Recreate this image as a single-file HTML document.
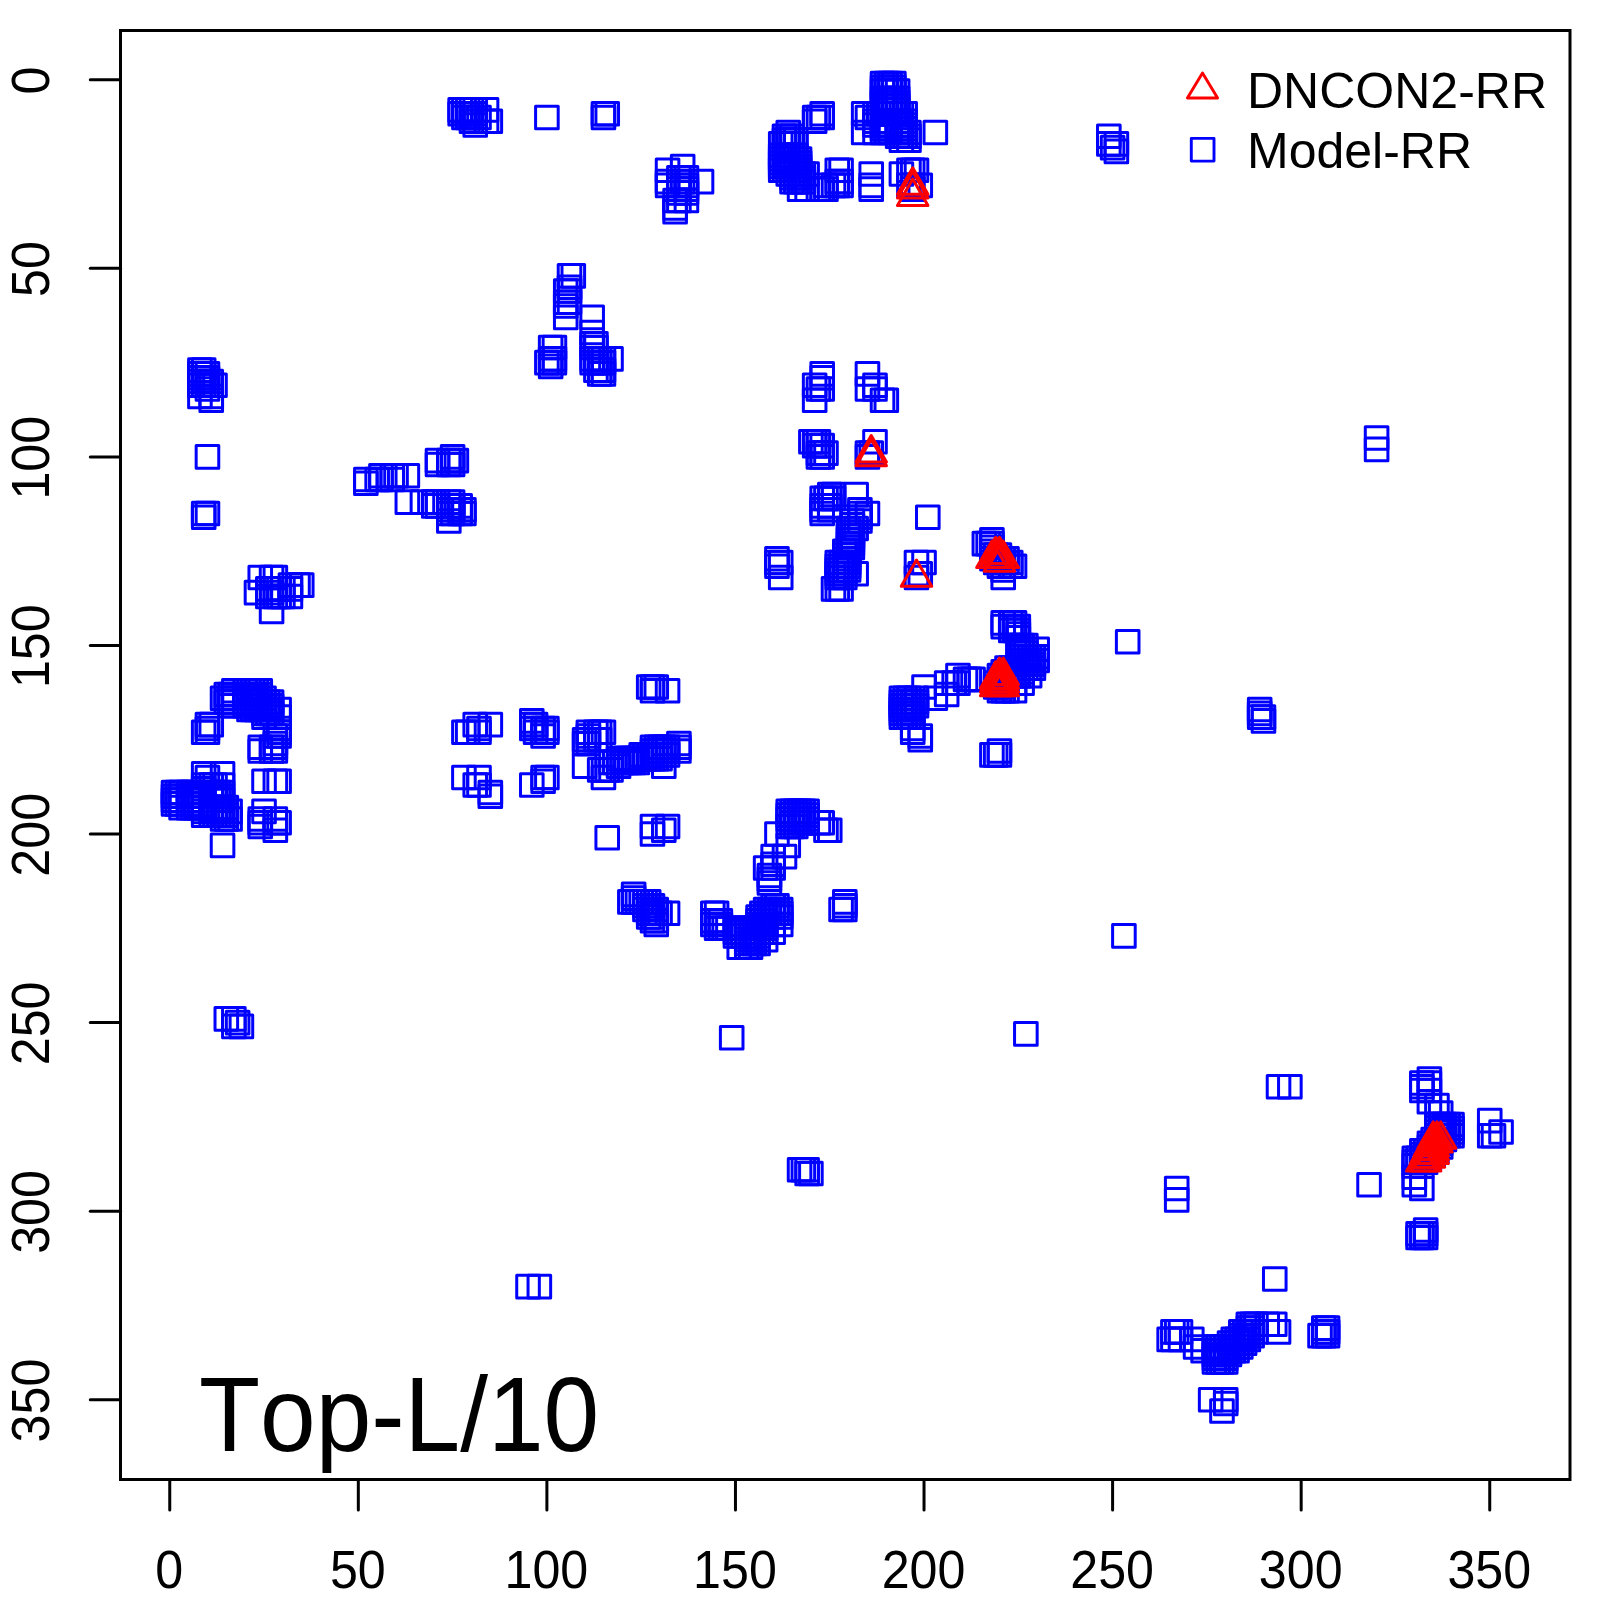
<!DOCTYPE html>
<html><head><meta charset="utf-8"><title>Top-L/10</title>
<style>
html,body{margin:0;padding:0;background:#fff}
svg{display:block}
text{font-kerning:none;font-family:"Liberation Sans",Arial,Helvetica,sans-serif;fill:#000}
</style></head><body>
<svg width="1600" height="1600" viewBox="0 0 1600 1600">
<rect x="0" y="0" width="1600" height="1600" fill="#ffffff"/>
<g fill="none" stroke="#0000ff" stroke-width="3.00" stroke-linejoin="round">
<rect x="162.22" y="781.24" width="22.60" height="22.60"/>
<rect x="162.22" y="785.02" width="22.60" height="22.60"/>
<rect x="162.22" y="788.79" width="22.60" height="22.60"/>
<rect x="162.22" y="792.56" width="22.60" height="22.60"/>
<rect x="165.99" y="781.24" width="22.60" height="22.60"/>
<rect x="165.99" y="785.02" width="22.60" height="22.60"/>
<rect x="165.99" y="788.79" width="22.60" height="22.60"/>
<rect x="165.99" y="792.56" width="22.60" height="22.60"/>
<rect x="169.76" y="781.24" width="22.60" height="22.60"/>
<rect x="169.76" y="785.02" width="22.60" height="22.60"/>
<rect x="169.76" y="788.79" width="22.60" height="22.60"/>
<rect x="169.76" y="792.56" width="22.60" height="22.60"/>
<rect x="169.76" y="796.33" width="22.60" height="22.60"/>
<rect x="177.31" y="781.24" width="22.60" height="22.60"/>
<rect x="177.31" y="785.02" width="22.60" height="22.60"/>
<rect x="177.31" y="788.79" width="22.60" height="22.60"/>
<rect x="177.31" y="792.56" width="22.60" height="22.60"/>
<rect x="177.31" y="796.33" width="22.60" height="22.60"/>
<rect x="181.08" y="781.24" width="22.60" height="22.60"/>
<rect x="181.08" y="785.02" width="22.60" height="22.60"/>
<rect x="181.08" y="788.79" width="22.60" height="22.60"/>
<rect x="181.08" y="792.56" width="22.60" height="22.60"/>
<rect x="181.08" y="796.33" width="22.60" height="22.60"/>
<rect x="184.85" y="781.24" width="22.60" height="22.60"/>
<rect x="184.85" y="785.02" width="22.60" height="22.60"/>
<rect x="184.85" y="788.79" width="22.60" height="22.60"/>
<rect x="184.85" y="792.56" width="22.60" height="22.60"/>
<rect x="184.85" y="796.33" width="22.60" height="22.60"/>
<rect x="188.62" y="358.85" width="22.60" height="22.60"/>
<rect x="188.62" y="362.62" width="22.60" height="22.60"/>
<rect x="188.62" y="366.39" width="22.60" height="22.60"/>
<rect x="188.62" y="370.16" width="22.60" height="22.60"/>
<rect x="188.62" y="373.93" width="22.60" height="22.60"/>
<rect x="188.62" y="385.25" width="22.60" height="22.60"/>
<rect x="188.62" y="785.02" width="22.60" height="22.60"/>
<rect x="188.62" y="788.79" width="22.60" height="22.60"/>
<rect x="188.62" y="792.56" width="22.60" height="22.60"/>
<rect x="188.62" y="796.33" width="22.60" height="22.60"/>
<rect x="192.39" y="358.85" width="22.60" height="22.60"/>
<rect x="192.39" y="362.62" width="22.60" height="22.60"/>
<rect x="192.39" y="366.39" width="22.60" height="22.60"/>
<rect x="192.39" y="370.16" width="22.60" height="22.60"/>
<rect x="192.39" y="373.93" width="22.60" height="22.60"/>
<rect x="192.39" y="502.16" width="22.60" height="22.60"/>
<rect x="192.39" y="505.93" width="22.60" height="22.60"/>
<rect x="192.39" y="720.90" width="22.60" height="22.60"/>
<rect x="192.39" y="762.39" width="22.60" height="22.60"/>
<rect x="192.39" y="773.70" width="22.60" height="22.60"/>
<rect x="192.39" y="777.47" width="22.60" height="22.60"/>
<rect x="192.39" y="781.24" width="22.60" height="22.60"/>
<rect x="192.39" y="785.02" width="22.60" height="22.60"/>
<rect x="192.39" y="788.79" width="22.60" height="22.60"/>
<rect x="192.39" y="792.56" width="22.60" height="22.60"/>
<rect x="192.39" y="796.33" width="22.60" height="22.60"/>
<rect x="192.39" y="800.10" width="22.60" height="22.60"/>
<rect x="192.39" y="803.87" width="22.60" height="22.60"/>
<rect x="196.16" y="362.62" width="22.60" height="22.60"/>
<rect x="196.16" y="366.39" width="22.60" height="22.60"/>
<rect x="196.16" y="370.16" width="22.60" height="22.60"/>
<rect x="196.16" y="373.93" width="22.60" height="22.60"/>
<rect x="196.16" y="377.70" width="22.60" height="22.60"/>
<rect x="196.16" y="445.59" width="22.60" height="22.60"/>
<rect x="196.16" y="502.16" width="22.60" height="22.60"/>
<rect x="196.16" y="713.36" width="22.60" height="22.60"/>
<rect x="196.16" y="717.13" width="22.60" height="22.60"/>
<rect x="196.16" y="720.90" width="22.60" height="22.60"/>
<rect x="196.16" y="766.16" width="22.60" height="22.60"/>
<rect x="199.94" y="370.16" width="22.60" height="22.60"/>
<rect x="199.94" y="373.93" width="22.60" height="22.60"/>
<rect x="199.94" y="385.25" width="22.60" height="22.60"/>
<rect x="199.94" y="389.02" width="22.60" height="22.60"/>
<rect x="199.94" y="713.36" width="22.60" height="22.60"/>
<rect x="199.94" y="773.70" width="22.60" height="22.60"/>
<rect x="199.94" y="781.24" width="22.60" height="22.60"/>
<rect x="199.94" y="785.02" width="22.60" height="22.60"/>
<rect x="199.94" y="788.79" width="22.60" height="22.60"/>
<rect x="199.94" y="796.33" width="22.60" height="22.60"/>
<rect x="199.94" y="800.10" width="22.60" height="22.60"/>
<rect x="199.94" y="803.87" width="22.60" height="22.60"/>
<rect x="203.71" y="373.93" width="22.60" height="22.60"/>
<rect x="203.71" y="773.70" width="22.60" height="22.60"/>
<rect x="203.71" y="781.24" width="22.60" height="22.60"/>
<rect x="203.71" y="785.02" width="22.60" height="22.60"/>
<rect x="203.71" y="788.79" width="22.60" height="22.60"/>
<rect x="203.71" y="796.33" width="22.60" height="22.60"/>
<rect x="203.71" y="800.10" width="22.60" height="22.60"/>
<rect x="203.71" y="803.87" width="22.60" height="22.60"/>
<rect x="207.48" y="781.24" width="22.60" height="22.60"/>
<rect x="207.48" y="785.02" width="22.60" height="22.60"/>
<rect x="207.48" y="788.79" width="22.60" height="22.60"/>
<rect x="207.48" y="796.33" width="22.60" height="22.60"/>
<rect x="207.48" y="800.10" width="22.60" height="22.60"/>
<rect x="207.48" y="803.87" width="22.60" height="22.60"/>
<rect x="211.25" y="686.96" width="22.60" height="22.60"/>
<rect x="211.25" y="762.39" width="22.60" height="22.60"/>
<rect x="211.25" y="773.70" width="22.60" height="22.60"/>
<rect x="211.25" y="781.24" width="22.60" height="22.60"/>
<rect x="211.25" y="785.02" width="22.60" height="22.60"/>
<rect x="211.25" y="788.79" width="22.60" height="22.60"/>
<rect x="211.25" y="796.33" width="22.60" height="22.60"/>
<rect x="211.25" y="800.10" width="22.60" height="22.60"/>
<rect x="211.25" y="803.87" width="22.60" height="22.60"/>
<rect x="211.25" y="807.64" width="22.60" height="22.60"/>
<rect x="211.25" y="834.04" width="22.60" height="22.60"/>
<rect x="215.02" y="683.19" width="22.60" height="22.60"/>
<rect x="215.02" y="686.96" width="22.60" height="22.60"/>
<rect x="215.02" y="690.73" width="22.60" height="22.60"/>
<rect x="215.02" y="796.33" width="22.60" height="22.60"/>
<rect x="215.02" y="800.10" width="22.60" height="22.60"/>
<rect x="215.02" y="803.87" width="22.60" height="22.60"/>
<rect x="215.02" y="807.64" width="22.60" height="22.60"/>
<rect x="215.02" y="1007.53" width="22.60" height="22.60"/>
<rect x="218.79" y="683.19" width="22.60" height="22.60"/>
<rect x="218.79" y="686.96" width="22.60" height="22.60"/>
<rect x="218.79" y="690.73" width="22.60" height="22.60"/>
<rect x="218.79" y="694.50" width="22.60" height="22.60"/>
<rect x="218.79" y="800.10" width="22.60" height="22.60"/>
<rect x="218.79" y="807.64" width="22.60" height="22.60"/>
<rect x="222.56" y="679.42" width="22.60" height="22.60"/>
<rect x="222.56" y="683.19" width="22.60" height="22.60"/>
<rect x="222.56" y="686.96" width="22.60" height="22.60"/>
<rect x="222.56" y="690.73" width="22.60" height="22.60"/>
<rect x="222.56" y="694.50" width="22.60" height="22.60"/>
<rect x="222.56" y="1007.53" width="22.60" height="22.60"/>
<rect x="222.56" y="1015.07" width="22.60" height="22.60"/>
<rect x="226.34" y="1011.30" width="22.60" height="22.60"/>
<rect x="230.11" y="1015.07" width="22.60" height="22.60"/>
<rect x="233.88" y="679.42" width="22.60" height="22.60"/>
<rect x="233.88" y="683.19" width="22.60" height="22.60"/>
<rect x="233.88" y="686.96" width="22.60" height="22.60"/>
<rect x="233.88" y="690.73" width="22.60" height="22.60"/>
<rect x="233.88" y="694.50" width="22.60" height="22.60"/>
<rect x="237.65" y="679.42" width="22.60" height="22.60"/>
<rect x="237.65" y="683.19" width="22.60" height="22.60"/>
<rect x="237.65" y="686.96" width="22.60" height="22.60"/>
<rect x="237.65" y="690.73" width="22.60" height="22.60"/>
<rect x="237.65" y="694.50" width="22.60" height="22.60"/>
<rect x="237.65" y="698.27" width="22.60" height="22.60"/>
<rect x="241.42" y="679.42" width="22.60" height="22.60"/>
<rect x="241.42" y="683.19" width="22.60" height="22.60"/>
<rect x="241.42" y="686.96" width="22.60" height="22.60"/>
<rect x="241.42" y="690.73" width="22.60" height="22.60"/>
<rect x="241.42" y="694.50" width="22.60" height="22.60"/>
<rect x="241.42" y="698.27" width="22.60" height="22.60"/>
<rect x="245.19" y="581.36" width="22.60" height="22.60"/>
<rect x="245.19" y="679.42" width="22.60" height="22.60"/>
<rect x="245.19" y="683.19" width="22.60" height="22.60"/>
<rect x="245.19" y="686.96" width="22.60" height="22.60"/>
<rect x="245.19" y="690.73" width="22.60" height="22.60"/>
<rect x="245.19" y="694.50" width="22.60" height="22.60"/>
<rect x="245.19" y="698.27" width="22.60" height="22.60"/>
<rect x="248.96" y="566.27" width="22.60" height="22.60"/>
<rect x="248.96" y="679.42" width="22.60" height="22.60"/>
<rect x="248.96" y="683.19" width="22.60" height="22.60"/>
<rect x="248.96" y="686.96" width="22.60" height="22.60"/>
<rect x="248.96" y="690.73" width="22.60" height="22.60"/>
<rect x="248.96" y="694.50" width="22.60" height="22.60"/>
<rect x="248.96" y="698.27" width="22.60" height="22.60"/>
<rect x="248.96" y="735.99" width="22.60" height="22.60"/>
<rect x="248.96" y="739.76" width="22.60" height="22.60"/>
<rect x="248.96" y="807.64" width="22.60" height="22.60"/>
<rect x="248.96" y="811.42" width="22.60" height="22.60"/>
<rect x="248.96" y="815.19" width="22.60" height="22.60"/>
<rect x="252.73" y="686.96" width="22.60" height="22.60"/>
<rect x="252.73" y="690.73" width="22.60" height="22.60"/>
<rect x="252.73" y="694.50" width="22.60" height="22.60"/>
<rect x="252.73" y="698.27" width="22.60" height="22.60"/>
<rect x="252.73" y="702.05" width="22.60" height="22.60"/>
<rect x="252.73" y="705.82" width="22.60" height="22.60"/>
<rect x="252.73" y="769.93" width="22.60" height="22.60"/>
<rect x="252.73" y="800.10" width="22.60" height="22.60"/>
<rect x="256.51" y="577.59" width="22.60" height="22.60"/>
<rect x="256.51" y="585.13" width="22.60" height="22.60"/>
<rect x="256.51" y="690.73" width="22.60" height="22.60"/>
<rect x="256.51" y="694.50" width="22.60" height="22.60"/>
<rect x="256.51" y="698.27" width="22.60" height="22.60"/>
<rect x="256.51" y="702.05" width="22.60" height="22.60"/>
<rect x="260.28" y="566.27" width="22.60" height="22.60"/>
<rect x="260.28" y="577.59" width="22.60" height="22.60"/>
<rect x="260.28" y="581.36" width="22.60" height="22.60"/>
<rect x="260.28" y="600.22" width="22.60" height="22.60"/>
<rect x="260.28" y="690.73" width="22.60" height="22.60"/>
<rect x="260.28" y="694.50" width="22.60" height="22.60"/>
<rect x="260.28" y="698.27" width="22.60" height="22.60"/>
<rect x="260.28" y="702.05" width="22.60" height="22.60"/>
<rect x="260.28" y="735.99" width="22.60" height="22.60"/>
<rect x="260.28" y="739.76" width="22.60" height="22.60"/>
<rect x="264.05" y="566.27" width="22.60" height="22.60"/>
<rect x="264.05" y="577.59" width="22.60" height="22.60"/>
<rect x="264.05" y="585.13" width="22.60" height="22.60"/>
<rect x="264.05" y="724.67" width="22.60" height="22.60"/>
<rect x="264.05" y="732.22" width="22.60" height="22.60"/>
<rect x="264.05" y="735.99" width="22.60" height="22.60"/>
<rect x="264.05" y="739.76" width="22.60" height="22.60"/>
<rect x="264.05" y="769.93" width="22.60" height="22.60"/>
<rect x="264.05" y="807.64" width="22.60" height="22.60"/>
<rect x="264.05" y="811.42" width="22.60" height="22.60"/>
<rect x="264.05" y="818.96" width="22.60" height="22.60"/>
<rect x="267.82" y="577.59" width="22.60" height="22.60"/>
<rect x="267.82" y="585.13" width="22.60" height="22.60"/>
<rect x="267.82" y="698.27" width="22.60" height="22.60"/>
<rect x="267.82" y="705.82" width="22.60" height="22.60"/>
<rect x="267.82" y="717.13" width="22.60" height="22.60"/>
<rect x="267.82" y="720.90" width="22.60" height="22.60"/>
<rect x="267.82" y="724.67" width="22.60" height="22.60"/>
<rect x="267.82" y="769.93" width="22.60" height="22.60"/>
<rect x="267.82" y="811.42" width="22.60" height="22.60"/>
<rect x="271.59" y="577.59" width="22.60" height="22.60"/>
<rect x="271.59" y="585.13" width="22.60" height="22.60"/>
<rect x="279.13" y="573.82" width="22.60" height="22.60"/>
<rect x="279.13" y="577.59" width="22.60" height="22.60"/>
<rect x="279.13" y="585.13" width="22.60" height="22.60"/>
<rect x="286.68" y="573.82" width="22.60" height="22.60"/>
<rect x="290.45" y="573.82" width="22.60" height="22.60"/>
<rect x="354.56" y="468.22" width="22.60" height="22.60"/>
<rect x="354.56" y="471.99" width="22.60" height="22.60"/>
<rect x="365.88" y="468.22" width="22.60" height="22.60"/>
<rect x="369.65" y="464.45" width="22.60" height="22.60"/>
<rect x="369.65" y="468.22" width="22.60" height="22.60"/>
<rect x="380.96" y="464.45" width="22.60" height="22.60"/>
<rect x="380.96" y="468.22" width="22.60" height="22.60"/>
<rect x="384.73" y="464.45" width="22.60" height="22.60"/>
<rect x="396.05" y="464.45" width="22.60" height="22.60"/>
<rect x="396.05" y="490.85" width="22.60" height="22.60"/>
<rect x="411.13" y="490.85" width="22.60" height="22.60"/>
<rect x="422.45" y="490.85" width="22.60" height="22.60"/>
<rect x="422.45" y="494.62" width="22.60" height="22.60"/>
<rect x="426.22" y="449.36" width="22.60" height="22.60"/>
<rect x="426.22" y="453.13" width="22.60" height="22.60"/>
<rect x="426.22" y="490.85" width="22.60" height="22.60"/>
<rect x="426.22" y="494.62" width="22.60" height="22.60"/>
<rect x="437.53" y="449.36" width="22.60" height="22.60"/>
<rect x="437.53" y="453.13" width="22.60" height="22.60"/>
<rect x="437.53" y="490.85" width="22.60" height="22.60"/>
<rect x="437.53" y="494.62" width="22.60" height="22.60"/>
<rect x="437.53" y="498.39" width="22.60" height="22.60"/>
<rect x="437.53" y="502.16" width="22.60" height="22.60"/>
<rect x="437.53" y="509.70" width="22.60" height="22.60"/>
<rect x="441.31" y="445.59" width="22.60" height="22.60"/>
<rect x="441.31" y="449.36" width="22.60" height="22.60"/>
<rect x="441.31" y="453.13" width="22.60" height="22.60"/>
<rect x="441.31" y="490.85" width="22.60" height="22.60"/>
<rect x="441.31" y="494.62" width="22.60" height="22.60"/>
<rect x="441.31" y="498.39" width="22.60" height="22.60"/>
<rect x="441.31" y="502.16" width="22.60" height="22.60"/>
<rect x="445.08" y="449.36" width="22.60" height="22.60"/>
<rect x="448.85" y="98.62" width="22.60" height="22.60"/>
<rect x="448.85" y="102.39" width="22.60" height="22.60"/>
<rect x="448.85" y="494.62" width="22.60" height="22.60"/>
<rect x="448.85" y="498.39" width="22.60" height="22.60"/>
<rect x="448.85" y="502.16" width="22.60" height="22.60"/>
<rect x="452.62" y="98.62" width="22.60" height="22.60"/>
<rect x="452.62" y="102.39" width="22.60" height="22.60"/>
<rect x="452.62" y="106.16" width="22.60" height="22.60"/>
<rect x="452.62" y="498.39" width="22.60" height="22.60"/>
<rect x="452.62" y="502.16" width="22.60" height="22.60"/>
<rect x="452.62" y="720.90" width="22.60" height="22.60"/>
<rect x="452.62" y="766.16" width="22.60" height="22.60"/>
<rect x="456.39" y="98.62" width="22.60" height="22.60"/>
<rect x="456.39" y="102.39" width="22.60" height="22.60"/>
<rect x="456.39" y="106.16" width="22.60" height="22.60"/>
<rect x="456.39" y="720.90" width="22.60" height="22.60"/>
<rect x="460.16" y="98.62" width="22.60" height="22.60"/>
<rect x="460.16" y="102.39" width="22.60" height="22.60"/>
<rect x="460.16" y="106.16" width="22.60" height="22.60"/>
<rect x="460.16" y="109.94" width="22.60" height="22.60"/>
<rect x="463.93" y="98.62" width="22.60" height="22.60"/>
<rect x="463.93" y="102.39" width="22.60" height="22.60"/>
<rect x="463.93" y="106.16" width="22.60" height="22.60"/>
<rect x="463.93" y="109.94" width="22.60" height="22.60"/>
<rect x="463.93" y="113.71" width="22.60" height="22.60"/>
<rect x="463.93" y="713.36" width="22.60" height="22.60"/>
<rect x="463.93" y="773.70" width="22.60" height="22.60"/>
<rect x="467.70" y="106.16" width="22.60" height="22.60"/>
<rect x="467.70" y="717.13" width="22.60" height="22.60"/>
<rect x="467.70" y="720.90" width="22.60" height="22.60"/>
<rect x="467.70" y="766.16" width="22.60" height="22.60"/>
<rect x="467.70" y="773.70" width="22.60" height="22.60"/>
<rect x="475.25" y="98.62" width="22.60" height="22.60"/>
<rect x="475.25" y="109.94" width="22.60" height="22.60"/>
<rect x="479.02" y="109.94" width="22.60" height="22.60"/>
<rect x="479.02" y="713.36" width="22.60" height="22.60"/>
<rect x="479.02" y="781.24" width="22.60" height="22.60"/>
<rect x="479.02" y="785.02" width="22.60" height="22.60"/>
<rect x="516.73" y="1275.30" width="22.60" height="22.60"/>
<rect x="520.50" y="709.59" width="22.60" height="22.60"/>
<rect x="520.50" y="713.36" width="22.60" height="22.60"/>
<rect x="520.50" y="717.13" width="22.60" height="22.60"/>
<rect x="520.50" y="773.70" width="22.60" height="22.60"/>
<rect x="524.28" y="713.36" width="22.60" height="22.60"/>
<rect x="524.28" y="717.13" width="22.60" height="22.60"/>
<rect x="524.28" y="720.90" width="22.60" height="22.60"/>
<rect x="528.05" y="1275.30" width="22.60" height="22.60"/>
<rect x="531.82" y="717.13" width="22.60" height="22.60"/>
<rect x="531.82" y="720.90" width="22.60" height="22.60"/>
<rect x="531.82" y="724.67" width="22.60" height="22.60"/>
<rect x="531.82" y="766.16" width="22.60" height="22.60"/>
<rect x="531.82" y="769.93" width="22.60" height="22.60"/>
<rect x="535.59" y="106.16" width="22.60" height="22.60"/>
<rect x="535.59" y="351.31" width="22.60" height="22.60"/>
<rect x="535.59" y="717.13" width="22.60" height="22.60"/>
<rect x="535.59" y="720.90" width="22.60" height="22.60"/>
<rect x="535.59" y="766.16" width="22.60" height="22.60"/>
<rect x="539.36" y="336.22" width="22.60" height="22.60"/>
<rect x="539.36" y="347.53" width="22.60" height="22.60"/>
<rect x="539.36" y="351.31" width="22.60" height="22.60"/>
<rect x="539.36" y="355.08" width="22.60" height="22.60"/>
<rect x="543.13" y="336.22" width="22.60" height="22.60"/>
<rect x="543.13" y="347.53" width="22.60" height="22.60"/>
<rect x="543.13" y="351.31" width="22.60" height="22.60"/>
<rect x="554.45" y="279.65" width="22.60" height="22.60"/>
<rect x="554.45" y="290.96" width="22.60" height="22.60"/>
<rect x="554.45" y="294.73" width="22.60" height="22.60"/>
<rect x="554.45" y="306.05" width="22.60" height="22.60"/>
<rect x="558.22" y="264.56" width="22.60" height="22.60"/>
<rect x="558.22" y="275.88" width="22.60" height="22.60"/>
<rect x="558.22" y="279.65" width="22.60" height="22.60"/>
<rect x="558.22" y="290.96" width="22.60" height="22.60"/>
<rect x="561.99" y="264.56" width="22.60" height="22.60"/>
<rect x="573.30" y="728.45" width="22.60" height="22.60"/>
<rect x="573.30" y="732.22" width="22.60" height="22.60"/>
<rect x="573.30" y="754.84" width="22.60" height="22.60"/>
<rect x="577.08" y="720.90" width="22.60" height="22.60"/>
<rect x="577.08" y="724.67" width="22.60" height="22.60"/>
<rect x="577.08" y="728.45" width="22.60" height="22.60"/>
<rect x="577.08" y="732.22" width="22.60" height="22.60"/>
<rect x="580.85" y="306.05" width="22.60" height="22.60"/>
<rect x="580.85" y="321.13" width="22.60" height="22.60"/>
<rect x="580.85" y="332.45" width="22.60" height="22.60"/>
<rect x="580.85" y="336.22" width="22.60" height="22.60"/>
<rect x="580.85" y="347.53" width="22.60" height="22.60"/>
<rect x="580.85" y="351.31" width="22.60" height="22.60"/>
<rect x="584.62" y="332.45" width="22.60" height="22.60"/>
<rect x="584.62" y="336.22" width="22.60" height="22.60"/>
<rect x="584.62" y="347.53" width="22.60" height="22.60"/>
<rect x="584.62" y="351.31" width="22.60" height="22.60"/>
<rect x="584.62" y="358.85" width="22.60" height="22.60"/>
<rect x="584.62" y="720.90" width="22.60" height="22.60"/>
<rect x="584.62" y="728.45" width="22.60" height="22.60"/>
<rect x="588.39" y="347.53" width="22.60" height="22.60"/>
<rect x="588.39" y="351.31" width="22.60" height="22.60"/>
<rect x="588.39" y="358.85" width="22.60" height="22.60"/>
<rect x="588.39" y="362.62" width="22.60" height="22.60"/>
<rect x="588.39" y="720.90" width="22.60" height="22.60"/>
<rect x="588.39" y="728.45" width="22.60" height="22.60"/>
<rect x="588.39" y="758.62" width="22.60" height="22.60"/>
<rect x="592.16" y="102.39" width="22.60" height="22.60"/>
<rect x="592.16" y="106.16" width="22.60" height="22.60"/>
<rect x="592.16" y="347.53" width="22.60" height="22.60"/>
<rect x="592.16" y="351.31" width="22.60" height="22.60"/>
<rect x="592.16" y="358.85" width="22.60" height="22.60"/>
<rect x="592.16" y="362.62" width="22.60" height="22.60"/>
<rect x="592.16" y="720.90" width="22.60" height="22.60"/>
<rect x="592.16" y="758.62" width="22.60" height="22.60"/>
<rect x="592.16" y="766.16" width="22.60" height="22.60"/>
<rect x="595.93" y="102.39" width="22.60" height="22.60"/>
<rect x="595.93" y="758.62" width="22.60" height="22.60"/>
<rect x="595.93" y="826.50" width="22.60" height="22.60"/>
<rect x="599.70" y="347.53" width="22.60" height="22.60"/>
<rect x="599.70" y="751.07" width="22.60" height="22.60"/>
<rect x="599.70" y="758.62" width="22.60" height="22.60"/>
<rect x="603.48" y="751.07" width="22.60" height="22.60"/>
<rect x="607.25" y="747.30" width="22.60" height="22.60"/>
<rect x="607.25" y="754.84" width="22.60" height="22.60"/>
<rect x="611.02" y="747.30" width="22.60" height="22.60"/>
<rect x="611.02" y="751.07" width="22.60" height="22.60"/>
<rect x="614.79" y="747.30" width="22.60" height="22.60"/>
<rect x="614.79" y="751.07" width="22.60" height="22.60"/>
<rect x="618.56" y="747.30" width="22.60" height="22.60"/>
<rect x="618.56" y="751.07" width="22.60" height="22.60"/>
<rect x="618.56" y="890.62" width="22.60" height="22.60"/>
<rect x="622.33" y="747.30" width="22.60" height="22.60"/>
<rect x="622.33" y="751.07" width="22.60" height="22.60"/>
<rect x="622.33" y="883.07" width="22.60" height="22.60"/>
<rect x="622.33" y="886.84" width="22.60" height="22.60"/>
<rect x="622.33" y="890.62" width="22.60" height="22.60"/>
<rect x="626.10" y="747.30" width="22.60" height="22.60"/>
<rect x="626.10" y="751.07" width="22.60" height="22.60"/>
<rect x="626.10" y="890.62" width="22.60" height="22.60"/>
<rect x="629.88" y="743.53" width="22.60" height="22.60"/>
<rect x="629.88" y="747.30" width="22.60" height="22.60"/>
<rect x="629.88" y="890.62" width="22.60" height="22.60"/>
<rect x="633.65" y="743.53" width="22.60" height="22.60"/>
<rect x="633.65" y="747.30" width="22.60" height="22.60"/>
<rect x="633.65" y="890.62" width="22.60" height="22.60"/>
<rect x="633.65" y="894.39" width="22.60" height="22.60"/>
<rect x="633.65" y="898.16" width="22.60" height="22.60"/>
<rect x="637.42" y="675.65" width="22.60" height="22.60"/>
<rect x="637.42" y="743.53" width="22.60" height="22.60"/>
<rect x="637.42" y="747.30" width="22.60" height="22.60"/>
<rect x="637.42" y="890.62" width="22.60" height="22.60"/>
<rect x="637.42" y="894.39" width="22.60" height="22.60"/>
<rect x="637.42" y="898.16" width="22.60" height="22.60"/>
<rect x="637.42" y="901.93" width="22.60" height="22.60"/>
<rect x="637.42" y="905.70" width="22.60" height="22.60"/>
<rect x="641.19" y="675.65" width="22.60" height="22.60"/>
<rect x="641.19" y="679.42" width="22.60" height="22.60"/>
<rect x="641.19" y="735.99" width="22.60" height="22.60"/>
<rect x="641.19" y="739.76" width="22.60" height="22.60"/>
<rect x="641.19" y="743.53" width="22.60" height="22.60"/>
<rect x="641.19" y="747.30" width="22.60" height="22.60"/>
<rect x="641.19" y="815.19" width="22.60" height="22.60"/>
<rect x="641.19" y="822.73" width="22.60" height="22.60"/>
<rect x="641.19" y="894.39" width="22.60" height="22.60"/>
<rect x="641.19" y="898.16" width="22.60" height="22.60"/>
<rect x="641.19" y="901.93" width="22.60" height="22.60"/>
<rect x="641.19" y="905.70" width="22.60" height="22.60"/>
<rect x="641.19" y="909.47" width="22.60" height="22.60"/>
<rect x="644.96" y="675.65" width="22.60" height="22.60"/>
<rect x="644.96" y="735.99" width="22.60" height="22.60"/>
<rect x="644.96" y="739.76" width="22.60" height="22.60"/>
<rect x="644.96" y="743.53" width="22.60" height="22.60"/>
<rect x="644.96" y="747.30" width="22.60" height="22.60"/>
<rect x="644.96" y="898.16" width="22.60" height="22.60"/>
<rect x="644.96" y="901.93" width="22.60" height="22.60"/>
<rect x="644.96" y="909.47" width="22.60" height="22.60"/>
<rect x="644.96" y="913.24" width="22.60" height="22.60"/>
<rect x="648.73" y="735.99" width="22.60" height="22.60"/>
<rect x="648.73" y="739.76" width="22.60" height="22.60"/>
<rect x="648.73" y="743.53" width="22.60" height="22.60"/>
<rect x="648.73" y="747.30" width="22.60" height="22.60"/>
<rect x="648.73" y="901.93" width="22.60" height="22.60"/>
<rect x="652.50" y="735.99" width="22.60" height="22.60"/>
<rect x="652.50" y="739.76" width="22.60" height="22.60"/>
<rect x="652.50" y="743.53" width="22.60" height="22.60"/>
<rect x="652.50" y="754.84" width="22.60" height="22.60"/>
<rect x="652.50" y="818.96" width="22.60" height="22.60"/>
<rect x="656.27" y="158.96" width="22.60" height="22.60"/>
<rect x="656.27" y="170.28" width="22.60" height="22.60"/>
<rect x="656.27" y="174.05" width="22.60" height="22.60"/>
<rect x="656.27" y="679.42" width="22.60" height="22.60"/>
<rect x="656.27" y="735.99" width="22.60" height="22.60"/>
<rect x="656.27" y="739.76" width="22.60" height="22.60"/>
<rect x="656.27" y="743.53" width="22.60" height="22.60"/>
<rect x="656.27" y="815.19" width="22.60" height="22.60"/>
<rect x="656.27" y="901.93" width="22.60" height="22.60"/>
<rect x="663.82" y="189.13" width="22.60" height="22.60"/>
<rect x="663.82" y="196.68" width="22.60" height="22.60"/>
<rect x="663.82" y="200.45" width="22.60" height="22.60"/>
<rect x="667.59" y="166.51" width="22.60" height="22.60"/>
<rect x="667.59" y="170.28" width="22.60" height="22.60"/>
<rect x="667.59" y="174.05" width="22.60" height="22.60"/>
<rect x="667.59" y="177.82" width="22.60" height="22.60"/>
<rect x="667.59" y="181.59" width="22.60" height="22.60"/>
<rect x="667.59" y="189.13" width="22.60" height="22.60"/>
<rect x="667.59" y="732.22" width="22.60" height="22.60"/>
<rect x="667.59" y="735.99" width="22.60" height="22.60"/>
<rect x="667.59" y="739.76" width="22.60" height="22.60"/>
<rect x="671.36" y="155.19" width="22.60" height="22.60"/>
<rect x="671.36" y="170.28" width="22.60" height="22.60"/>
<rect x="675.13" y="166.51" width="22.60" height="22.60"/>
<rect x="675.13" y="174.05" width="22.60" height="22.60"/>
<rect x="675.13" y="177.82" width="22.60" height="22.60"/>
<rect x="675.13" y="181.59" width="22.60" height="22.60"/>
<rect x="675.13" y="189.13" width="22.60" height="22.60"/>
<rect x="690.22" y="170.28" width="22.60" height="22.60"/>
<rect x="701.53" y="901.93" width="22.60" height="22.60"/>
<rect x="701.53" y="909.47" width="22.60" height="22.60"/>
<rect x="701.53" y="913.24" width="22.60" height="22.60"/>
<rect x="705.30" y="901.93" width="22.60" height="22.60"/>
<rect x="705.30" y="909.47" width="22.60" height="22.60"/>
<rect x="705.30" y="913.24" width="22.60" height="22.60"/>
<rect x="705.30" y="917.01" width="22.60" height="22.60"/>
<rect x="709.07" y="909.47" width="22.60" height="22.60"/>
<rect x="709.07" y="913.24" width="22.60" height="22.60"/>
<rect x="709.07" y="917.01" width="22.60" height="22.60"/>
<rect x="712.85" y="917.01" width="22.60" height="22.60"/>
<rect x="716.62" y="917.01" width="22.60" height="22.60"/>
<rect x="720.39" y="1026.39" width="22.60" height="22.60"/>
<rect x="724.16" y="920.79" width="22.60" height="22.60"/>
<rect x="724.16" y="924.56" width="22.60" height="22.60"/>
<rect x="727.93" y="917.01" width="22.60" height="22.60"/>
<rect x="727.93" y="920.79" width="22.60" height="22.60"/>
<rect x="727.93" y="924.56" width="22.60" height="22.60"/>
<rect x="727.93" y="935.87" width="22.60" height="22.60"/>
<rect x="731.70" y="917.01" width="22.60" height="22.60"/>
<rect x="731.70" y="920.79" width="22.60" height="22.60"/>
<rect x="731.70" y="924.56" width="22.60" height="22.60"/>
<rect x="735.47" y="917.01" width="22.60" height="22.60"/>
<rect x="735.47" y="920.79" width="22.60" height="22.60"/>
<rect x="735.47" y="924.56" width="22.60" height="22.60"/>
<rect x="735.47" y="928.33" width="22.60" height="22.60"/>
<rect x="735.47" y="932.10" width="22.60" height="22.60"/>
<rect x="735.47" y="935.87" width="22.60" height="22.60"/>
<rect x="739.25" y="917.01" width="22.60" height="22.60"/>
<rect x="739.25" y="920.79" width="22.60" height="22.60"/>
<rect x="739.25" y="924.56" width="22.60" height="22.60"/>
<rect x="739.25" y="928.33" width="22.60" height="22.60"/>
<rect x="739.25" y="932.10" width="22.60" height="22.60"/>
<rect x="739.25" y="935.87" width="22.60" height="22.60"/>
<rect x="743.02" y="917.01" width="22.60" height="22.60"/>
<rect x="743.02" y="920.79" width="22.60" height="22.60"/>
<rect x="743.02" y="924.56" width="22.60" height="22.60"/>
<rect x="743.02" y="928.33" width="22.60" height="22.60"/>
<rect x="743.02" y="932.10" width="22.60" height="22.60"/>
<rect x="746.79" y="905.70" width="22.60" height="22.60"/>
<rect x="746.79" y="909.47" width="22.60" height="22.60"/>
<rect x="746.79" y="913.24" width="22.60" height="22.60"/>
<rect x="746.79" y="917.01" width="22.60" height="22.60"/>
<rect x="746.79" y="920.79" width="22.60" height="22.60"/>
<rect x="746.79" y="924.56" width="22.60" height="22.60"/>
<rect x="746.79" y="928.33" width="22.60" height="22.60"/>
<rect x="746.79" y="932.10" width="22.60" height="22.60"/>
<rect x="750.56" y="901.93" width="22.60" height="22.60"/>
<rect x="750.56" y="905.70" width="22.60" height="22.60"/>
<rect x="750.56" y="909.47" width="22.60" height="22.60"/>
<rect x="750.56" y="913.24" width="22.60" height="22.60"/>
<rect x="750.56" y="917.01" width="22.60" height="22.60"/>
<rect x="750.56" y="920.79" width="22.60" height="22.60"/>
<rect x="754.33" y="856.67" width="22.60" height="22.60"/>
<rect x="754.33" y="898.16" width="22.60" height="22.60"/>
<rect x="754.33" y="901.93" width="22.60" height="22.60"/>
<rect x="754.33" y="905.70" width="22.60" height="22.60"/>
<rect x="754.33" y="909.47" width="22.60" height="22.60"/>
<rect x="754.33" y="913.24" width="22.60" height="22.60"/>
<rect x="754.33" y="917.01" width="22.60" height="22.60"/>
<rect x="754.33" y="920.79" width="22.60" height="22.60"/>
<rect x="754.33" y="928.33" width="22.60" height="22.60"/>
<rect x="758.10" y="864.22" width="22.60" height="22.60"/>
<rect x="758.10" y="867.99" width="22.60" height="22.60"/>
<rect x="758.10" y="871.76" width="22.60" height="22.60"/>
<rect x="758.10" y="898.16" width="22.60" height="22.60"/>
<rect x="758.10" y="901.93" width="22.60" height="22.60"/>
<rect x="761.87" y="845.36" width="22.60" height="22.60"/>
<rect x="761.87" y="852.90" width="22.60" height="22.60"/>
<rect x="761.87" y="856.67" width="22.60" height="22.60"/>
<rect x="761.87" y="894.39" width="22.60" height="22.60"/>
<rect x="761.87" y="898.16" width="22.60" height="22.60"/>
<rect x="761.87" y="901.93" width="22.60" height="22.60"/>
<rect x="761.87" y="905.70" width="22.60" height="22.60"/>
<rect x="761.87" y="913.24" width="22.60" height="22.60"/>
<rect x="761.87" y="920.79" width="22.60" height="22.60"/>
<rect x="765.65" y="547.42" width="22.60" height="22.60"/>
<rect x="765.65" y="551.19" width="22.60" height="22.60"/>
<rect x="765.65" y="554.96" width="22.60" height="22.60"/>
<rect x="765.65" y="822.73" width="22.60" height="22.60"/>
<rect x="765.65" y="894.39" width="22.60" height="22.60"/>
<rect x="765.65" y="898.16" width="22.60" height="22.60"/>
<rect x="765.65" y="901.93" width="22.60" height="22.60"/>
<rect x="769.42" y="132.56" width="22.60" height="22.60"/>
<rect x="769.42" y="143.88" width="22.60" height="22.60"/>
<rect x="769.42" y="147.65" width="22.60" height="22.60"/>
<rect x="769.42" y="151.42" width="22.60" height="22.60"/>
<rect x="769.42" y="155.19" width="22.60" height="22.60"/>
<rect x="769.42" y="158.96" width="22.60" height="22.60"/>
<rect x="769.42" y="551.19" width="22.60" height="22.60"/>
<rect x="769.42" y="566.27" width="22.60" height="22.60"/>
<rect x="769.42" y="898.16" width="22.60" height="22.60"/>
<rect x="769.42" y="901.93" width="22.60" height="22.60"/>
<rect x="769.42" y="905.70" width="22.60" height="22.60"/>
<rect x="769.42" y="913.24" width="22.60" height="22.60"/>
<rect x="773.19" y="125.02" width="22.60" height="22.60"/>
<rect x="773.19" y="128.79" width="22.60" height="22.60"/>
<rect x="773.19" y="132.56" width="22.60" height="22.60"/>
<rect x="773.19" y="143.88" width="22.60" height="22.60"/>
<rect x="773.19" y="147.65" width="22.60" height="22.60"/>
<rect x="773.19" y="151.42" width="22.60" height="22.60"/>
<rect x="773.19" y="155.19" width="22.60" height="22.60"/>
<rect x="773.19" y="158.96" width="22.60" height="22.60"/>
<rect x="773.19" y="845.36" width="22.60" height="22.60"/>
<rect x="776.96" y="121.25" width="22.60" height="22.60"/>
<rect x="776.96" y="125.02" width="22.60" height="22.60"/>
<rect x="776.96" y="128.79" width="22.60" height="22.60"/>
<rect x="776.96" y="132.56" width="22.60" height="22.60"/>
<rect x="776.96" y="143.88" width="22.60" height="22.60"/>
<rect x="776.96" y="147.65" width="22.60" height="22.60"/>
<rect x="776.96" y="151.42" width="22.60" height="22.60"/>
<rect x="776.96" y="155.19" width="22.60" height="22.60"/>
<rect x="776.96" y="158.96" width="22.60" height="22.60"/>
<rect x="776.96" y="162.73" width="22.60" height="22.60"/>
<rect x="776.96" y="800.10" width="22.60" height="22.60"/>
<rect x="776.96" y="803.87" width="22.60" height="22.60"/>
<rect x="776.96" y="807.64" width="22.60" height="22.60"/>
<rect x="776.96" y="815.19" width="22.60" height="22.60"/>
<rect x="776.96" y="834.04" width="22.60" height="22.60"/>
<rect x="780.73" y="125.02" width="22.60" height="22.60"/>
<rect x="780.73" y="128.79" width="22.60" height="22.60"/>
<rect x="780.73" y="132.56" width="22.60" height="22.60"/>
<rect x="780.73" y="143.88" width="22.60" height="22.60"/>
<rect x="780.73" y="147.65" width="22.60" height="22.60"/>
<rect x="780.73" y="151.42" width="22.60" height="22.60"/>
<rect x="780.73" y="155.19" width="22.60" height="22.60"/>
<rect x="780.73" y="158.96" width="22.60" height="22.60"/>
<rect x="780.73" y="162.73" width="22.60" height="22.60"/>
<rect x="780.73" y="166.51" width="22.60" height="22.60"/>
<rect x="780.73" y="170.28" width="22.60" height="22.60"/>
<rect x="780.73" y="800.10" width="22.60" height="22.60"/>
<rect x="780.73" y="803.87" width="22.60" height="22.60"/>
<rect x="780.73" y="807.64" width="22.60" height="22.60"/>
<rect x="780.73" y="811.42" width="22.60" height="22.60"/>
<rect x="780.73" y="815.19" width="22.60" height="22.60"/>
<rect x="784.50" y="128.79" width="22.60" height="22.60"/>
<rect x="784.50" y="132.56" width="22.60" height="22.60"/>
<rect x="784.50" y="143.88" width="22.60" height="22.60"/>
<rect x="784.50" y="147.65" width="22.60" height="22.60"/>
<rect x="784.50" y="151.42" width="22.60" height="22.60"/>
<rect x="784.50" y="155.19" width="22.60" height="22.60"/>
<rect x="784.50" y="158.96" width="22.60" height="22.60"/>
<rect x="784.50" y="162.73" width="22.60" height="22.60"/>
<rect x="784.50" y="166.51" width="22.60" height="22.60"/>
<rect x="784.50" y="170.28" width="22.60" height="22.60"/>
<rect x="784.50" y="800.10" width="22.60" height="22.60"/>
<rect x="784.50" y="803.87" width="22.60" height="22.60"/>
<rect x="784.50" y="807.64" width="22.60" height="22.60"/>
<rect x="784.50" y="815.19" width="22.60" height="22.60"/>
<rect x="788.27" y="147.65" width="22.60" height="22.60"/>
<rect x="788.27" y="151.42" width="22.60" height="22.60"/>
<rect x="788.27" y="155.19" width="22.60" height="22.60"/>
<rect x="788.27" y="158.96" width="22.60" height="22.60"/>
<rect x="788.27" y="162.73" width="22.60" height="22.60"/>
<rect x="788.27" y="166.51" width="22.60" height="22.60"/>
<rect x="788.27" y="170.28" width="22.60" height="22.60"/>
<rect x="788.27" y="177.82" width="22.60" height="22.60"/>
<rect x="788.27" y="800.10" width="22.60" height="22.60"/>
<rect x="788.27" y="803.87" width="22.60" height="22.60"/>
<rect x="788.27" y="807.64" width="22.60" height="22.60"/>
<rect x="788.27" y="811.42" width="22.60" height="22.60"/>
<rect x="788.27" y="1158.38" width="22.60" height="22.60"/>
<rect x="792.05" y="162.73" width="22.60" height="22.60"/>
<rect x="792.05" y="166.51" width="22.60" height="22.60"/>
<rect x="792.05" y="170.28" width="22.60" height="22.60"/>
<rect x="792.05" y="800.10" width="22.60" height="22.60"/>
<rect x="792.05" y="803.87" width="22.60" height="22.60"/>
<rect x="792.05" y="807.64" width="22.60" height="22.60"/>
<rect x="792.05" y="811.42" width="22.60" height="22.60"/>
<rect x="792.05" y="1158.38" width="22.60" height="22.60"/>
<rect x="795.82" y="162.73" width="22.60" height="22.60"/>
<rect x="795.82" y="177.82" width="22.60" height="22.60"/>
<rect x="795.82" y="800.10" width="22.60" height="22.60"/>
<rect x="795.82" y="803.87" width="22.60" height="22.60"/>
<rect x="795.82" y="807.64" width="22.60" height="22.60"/>
<rect x="795.82" y="811.42" width="22.60" height="22.60"/>
<rect x="795.82" y="1158.38" width="22.60" height="22.60"/>
<rect x="795.82" y="1162.16" width="22.60" height="22.60"/>
<rect x="799.59" y="430.50" width="22.60" height="22.60"/>
<rect x="799.59" y="1162.16" width="22.60" height="22.60"/>
<rect x="803.36" y="106.16" width="22.60" height="22.60"/>
<rect x="803.36" y="109.94" width="22.60" height="22.60"/>
<rect x="803.36" y="373.93" width="22.60" height="22.60"/>
<rect x="803.36" y="389.02" width="22.60" height="22.60"/>
<rect x="803.36" y="430.50" width="22.60" height="22.60"/>
<rect x="803.36" y="434.28" width="22.60" height="22.60"/>
<rect x="807.13" y="106.16" width="22.60" height="22.60"/>
<rect x="807.13" y="177.82" width="22.60" height="22.60"/>
<rect x="807.13" y="377.70" width="22.60" height="22.60"/>
<rect x="807.13" y="430.50" width="22.60" height="22.60"/>
<rect x="807.13" y="434.28" width="22.60" height="22.60"/>
<rect x="807.13" y="441.82" width="22.60" height="22.60"/>
<rect x="807.13" y="445.59" width="22.60" height="22.60"/>
<rect x="807.13" y="811.42" width="22.60" height="22.60"/>
<rect x="810.90" y="102.39" width="22.60" height="22.60"/>
<rect x="810.90" y="106.16" width="22.60" height="22.60"/>
<rect x="810.90" y="177.82" width="22.60" height="22.60"/>
<rect x="810.90" y="362.62" width="22.60" height="22.60"/>
<rect x="810.90" y="366.39" width="22.60" height="22.60"/>
<rect x="810.90" y="377.70" width="22.60" height="22.60"/>
<rect x="810.90" y="434.28" width="22.60" height="22.60"/>
<rect x="810.90" y="441.82" width="22.60" height="22.60"/>
<rect x="810.90" y="445.59" width="22.60" height="22.60"/>
<rect x="810.90" y="487.08" width="22.60" height="22.60"/>
<rect x="810.90" y="494.62" width="22.60" height="22.60"/>
<rect x="810.90" y="498.39" width="22.60" height="22.60"/>
<rect x="810.90" y="502.16" width="22.60" height="22.60"/>
<rect x="810.90" y="811.42" width="22.60" height="22.60"/>
<rect x="814.67" y="174.05" width="22.60" height="22.60"/>
<rect x="814.67" y="177.82" width="22.60" height="22.60"/>
<rect x="814.67" y="441.82" width="22.60" height="22.60"/>
<rect x="814.67" y="487.08" width="22.60" height="22.60"/>
<rect x="814.67" y="818.96" width="22.60" height="22.60"/>
<rect x="818.45" y="483.30" width="22.60" height="22.60"/>
<rect x="818.45" y="487.08" width="22.60" height="22.60"/>
<rect x="818.45" y="494.62" width="22.60" height="22.60"/>
<rect x="818.45" y="498.39" width="22.60" height="22.60"/>
<rect x="818.45" y="818.96" width="22.60" height="22.60"/>
<rect x="822.22" y="174.05" width="22.60" height="22.60"/>
<rect x="822.22" y="483.30" width="22.60" height="22.60"/>
<rect x="822.22" y="487.08" width="22.60" height="22.60"/>
<rect x="822.22" y="577.59" width="22.60" height="22.60"/>
<rect x="825.99" y="158.96" width="22.60" height="22.60"/>
<rect x="825.99" y="170.28" width="22.60" height="22.60"/>
<rect x="825.99" y="174.05" width="22.60" height="22.60"/>
<rect x="825.99" y="551.19" width="22.60" height="22.60"/>
<rect x="825.99" y="554.96" width="22.60" height="22.60"/>
<rect x="825.99" y="558.73" width="22.60" height="22.60"/>
<rect x="825.99" y="562.50" width="22.60" height="22.60"/>
<rect x="825.99" y="566.27" width="22.60" height="22.60"/>
<rect x="825.99" y="577.59" width="22.60" height="22.60"/>
<rect x="829.76" y="158.96" width="22.60" height="22.60"/>
<rect x="829.76" y="170.28" width="22.60" height="22.60"/>
<rect x="829.76" y="174.05" width="22.60" height="22.60"/>
<rect x="829.76" y="551.19" width="22.60" height="22.60"/>
<rect x="829.76" y="554.96" width="22.60" height="22.60"/>
<rect x="829.76" y="558.73" width="22.60" height="22.60"/>
<rect x="829.76" y="562.50" width="22.60" height="22.60"/>
<rect x="829.76" y="566.27" width="22.60" height="22.60"/>
<rect x="829.76" y="577.59" width="22.60" height="22.60"/>
<rect x="829.76" y="898.16" width="22.60" height="22.60"/>
<rect x="833.53" y="539.88" width="22.60" height="22.60"/>
<rect x="833.53" y="543.65" width="22.60" height="22.60"/>
<rect x="833.53" y="547.42" width="22.60" height="22.60"/>
<rect x="833.53" y="551.19" width="22.60" height="22.60"/>
<rect x="833.53" y="554.96" width="22.60" height="22.60"/>
<rect x="833.53" y="558.73" width="22.60" height="22.60"/>
<rect x="833.53" y="562.50" width="22.60" height="22.60"/>
<rect x="833.53" y="566.27" width="22.60" height="22.60"/>
<rect x="833.53" y="890.62" width="22.60" height="22.60"/>
<rect x="833.53" y="894.39" width="22.60" height="22.60"/>
<rect x="833.53" y="898.16" width="22.60" height="22.60"/>
<rect x="837.30" y="517.25" width="22.60" height="22.60"/>
<rect x="837.30" y="521.02" width="22.60" height="22.60"/>
<rect x="837.30" y="524.79" width="22.60" height="22.60"/>
<rect x="837.30" y="528.56" width="22.60" height="22.60"/>
<rect x="837.30" y="532.33" width="22.60" height="22.60"/>
<rect x="837.30" y="536.10" width="22.60" height="22.60"/>
<rect x="837.30" y="539.88" width="22.60" height="22.60"/>
<rect x="837.30" y="543.65" width="22.60" height="22.60"/>
<rect x="837.30" y="547.42" width="22.60" height="22.60"/>
<rect x="837.30" y="551.19" width="22.60" height="22.60"/>
<rect x="837.30" y="554.96" width="22.60" height="22.60"/>
<rect x="837.30" y="558.73" width="22.60" height="22.60"/>
<rect x="841.07" y="509.70" width="22.60" height="22.60"/>
<rect x="841.07" y="513.48" width="22.60" height="22.60"/>
<rect x="841.07" y="521.02" width="22.60" height="22.60"/>
<rect x="841.07" y="524.79" width="22.60" height="22.60"/>
<rect x="841.07" y="528.56" width="22.60" height="22.60"/>
<rect x="841.07" y="532.33" width="22.60" height="22.60"/>
<rect x="841.07" y="536.10" width="22.60" height="22.60"/>
<rect x="844.84" y="483.30" width="22.60" height="22.60"/>
<rect x="844.84" y="517.25" width="22.60" height="22.60"/>
<rect x="844.84" y="562.50" width="22.60" height="22.60"/>
<rect x="848.62" y="498.39" width="22.60" height="22.60"/>
<rect x="848.62" y="502.16" width="22.60" height="22.60"/>
<rect x="848.62" y="505.93" width="22.60" height="22.60"/>
<rect x="848.62" y="509.70" width="22.60" height="22.60"/>
<rect x="852.39" y="102.39" width="22.60" height="22.60"/>
<rect x="852.39" y="121.25" width="22.60" height="22.60"/>
<rect x="856.16" y="106.16" width="22.60" height="22.60"/>
<rect x="856.16" y="362.62" width="22.60" height="22.60"/>
<rect x="856.16" y="377.70" width="22.60" height="22.60"/>
<rect x="856.16" y="441.82" width="22.60" height="22.60"/>
<rect x="856.16" y="445.59" width="22.60" height="22.60"/>
<rect x="856.16" y="502.16" width="22.60" height="22.60"/>
<rect x="859.93" y="162.73" width="22.60" height="22.60"/>
<rect x="859.93" y="174.05" width="22.60" height="22.60"/>
<rect x="859.93" y="177.82" width="22.60" height="22.60"/>
<rect x="859.93" y="441.82" width="22.60" height="22.60"/>
<rect x="863.70" y="102.39" width="22.60" height="22.60"/>
<rect x="863.70" y="109.94" width="22.60" height="22.60"/>
<rect x="863.70" y="113.71" width="22.60" height="22.60"/>
<rect x="863.70" y="121.25" width="22.60" height="22.60"/>
<rect x="863.70" y="373.93" width="22.60" height="22.60"/>
<rect x="863.70" y="377.70" width="22.60" height="22.60"/>
<rect x="863.70" y="430.50" width="22.60" height="22.60"/>
<rect x="867.47" y="102.39" width="22.60" height="22.60"/>
<rect x="871.24" y="72.22" width="22.60" height="22.60"/>
<rect x="871.24" y="75.99" width="22.60" height="22.60"/>
<rect x="871.24" y="79.76" width="22.60" height="22.60"/>
<rect x="871.24" y="87.31" width="22.60" height="22.60"/>
<rect x="871.24" y="91.08" width="22.60" height="22.60"/>
<rect x="871.24" y="94.85" width="22.60" height="22.60"/>
<rect x="871.24" y="102.39" width="22.60" height="22.60"/>
<rect x="871.24" y="109.94" width="22.60" height="22.60"/>
<rect x="871.24" y="113.71" width="22.60" height="22.60"/>
<rect x="871.24" y="117.48" width="22.60" height="22.60"/>
<rect x="871.24" y="121.25" width="22.60" height="22.60"/>
<rect x="871.24" y="389.02" width="22.60" height="22.60"/>
<rect x="875.02" y="72.22" width="22.60" height="22.60"/>
<rect x="875.02" y="75.99" width="22.60" height="22.60"/>
<rect x="875.02" y="79.76" width="22.60" height="22.60"/>
<rect x="875.02" y="87.31" width="22.60" height="22.60"/>
<rect x="875.02" y="91.08" width="22.60" height="22.60"/>
<rect x="875.02" y="94.85" width="22.60" height="22.60"/>
<rect x="875.02" y="98.62" width="22.60" height="22.60"/>
<rect x="875.02" y="102.39" width="22.60" height="22.60"/>
<rect x="875.02" y="109.94" width="22.60" height="22.60"/>
<rect x="875.02" y="113.71" width="22.60" height="22.60"/>
<rect x="875.02" y="117.48" width="22.60" height="22.60"/>
<rect x="875.02" y="121.25" width="22.60" height="22.60"/>
<rect x="875.02" y="389.02" width="22.60" height="22.60"/>
<rect x="878.79" y="72.22" width="22.60" height="22.60"/>
<rect x="878.79" y="75.99" width="22.60" height="22.60"/>
<rect x="878.79" y="79.76" width="22.60" height="22.60"/>
<rect x="878.79" y="87.31" width="22.60" height="22.60"/>
<rect x="878.79" y="91.08" width="22.60" height="22.60"/>
<rect x="878.79" y="94.85" width="22.60" height="22.60"/>
<rect x="878.79" y="98.62" width="22.60" height="22.60"/>
<rect x="878.79" y="102.39" width="22.60" height="22.60"/>
<rect x="878.79" y="109.94" width="22.60" height="22.60"/>
<rect x="878.79" y="113.71" width="22.60" height="22.60"/>
<rect x="878.79" y="117.48" width="22.60" height="22.60"/>
<rect x="878.79" y="121.25" width="22.60" height="22.60"/>
<rect x="882.56" y="72.22" width="22.60" height="22.60"/>
<rect x="882.56" y="75.99" width="22.60" height="22.60"/>
<rect x="882.56" y="79.76" width="22.60" height="22.60"/>
<rect x="882.56" y="87.31" width="22.60" height="22.60"/>
<rect x="882.56" y="91.08" width="22.60" height="22.60"/>
<rect x="882.56" y="94.85" width="22.60" height="22.60"/>
<rect x="882.56" y="98.62" width="22.60" height="22.60"/>
<rect x="882.56" y="102.39" width="22.60" height="22.60"/>
<rect x="886.33" y="79.76" width="22.60" height="22.60"/>
<rect x="886.33" y="87.31" width="22.60" height="22.60"/>
<rect x="886.33" y="91.08" width="22.60" height="22.60"/>
<rect x="886.33" y="94.85" width="22.60" height="22.60"/>
<rect x="886.33" y="98.62" width="22.60" height="22.60"/>
<rect x="886.33" y="102.39" width="22.60" height="22.60"/>
<rect x="886.33" y="109.94" width="22.60" height="22.60"/>
<rect x="886.33" y="113.71" width="22.60" height="22.60"/>
<rect x="886.33" y="117.48" width="22.60" height="22.60"/>
<rect x="886.33" y="121.25" width="22.60" height="22.60"/>
<rect x="886.33" y="125.02" width="22.60" height="22.60"/>
<rect x="890.10" y="102.39" width="22.60" height="22.60"/>
<rect x="890.10" y="109.94" width="22.60" height="22.60"/>
<rect x="890.10" y="113.71" width="22.60" height="22.60"/>
<rect x="890.10" y="117.48" width="22.60" height="22.60"/>
<rect x="890.10" y="121.25" width="22.60" height="22.60"/>
<rect x="890.10" y="125.02" width="22.60" height="22.60"/>
<rect x="890.10" y="128.79" width="22.60" height="22.60"/>
<rect x="890.10" y="162.73" width="22.60" height="22.60"/>
<rect x="890.10" y="686.96" width="22.60" height="22.60"/>
<rect x="890.10" y="690.73" width="22.60" height="22.60"/>
<rect x="890.10" y="694.50" width="22.60" height="22.60"/>
<rect x="890.10" y="698.27" width="22.60" height="22.60"/>
<rect x="890.10" y="702.05" width="22.60" height="22.60"/>
<rect x="890.10" y="705.82" width="22.60" height="22.60"/>
<rect x="893.87" y="102.39" width="22.60" height="22.60"/>
<rect x="893.87" y="109.94" width="22.60" height="22.60"/>
<rect x="893.87" y="113.71" width="22.60" height="22.60"/>
<rect x="893.87" y="117.48" width="22.60" height="22.60"/>
<rect x="893.87" y="121.25" width="22.60" height="22.60"/>
<rect x="893.87" y="125.02" width="22.60" height="22.60"/>
<rect x="893.87" y="686.96" width="22.60" height="22.60"/>
<rect x="893.87" y="690.73" width="22.60" height="22.60"/>
<rect x="893.87" y="694.50" width="22.60" height="22.60"/>
<rect x="893.87" y="698.27" width="22.60" height="22.60"/>
<rect x="893.87" y="702.05" width="22.60" height="22.60"/>
<rect x="893.87" y="705.82" width="22.60" height="22.60"/>
<rect x="897.64" y="121.25" width="22.60" height="22.60"/>
<rect x="897.64" y="125.02" width="22.60" height="22.60"/>
<rect x="897.64" y="128.79" width="22.60" height="22.60"/>
<rect x="897.64" y="158.96" width="22.60" height="22.60"/>
<rect x="897.64" y="174.05" width="22.60" height="22.60"/>
<rect x="897.64" y="686.96" width="22.60" height="22.60"/>
<rect x="897.64" y="690.73" width="22.60" height="22.60"/>
<rect x="897.64" y="694.50" width="22.60" height="22.60"/>
<rect x="897.64" y="698.27" width="22.60" height="22.60"/>
<rect x="897.64" y="702.05" width="22.60" height="22.60"/>
<rect x="897.64" y="705.82" width="22.60" height="22.60"/>
<rect x="901.42" y="158.96" width="22.60" height="22.60"/>
<rect x="901.42" y="174.05" width="22.60" height="22.60"/>
<rect x="901.42" y="177.82" width="22.60" height="22.60"/>
<rect x="901.42" y="690.73" width="22.60" height="22.60"/>
<rect x="901.42" y="698.27" width="22.60" height="22.60"/>
<rect x="901.42" y="702.05" width="22.60" height="22.60"/>
<rect x="901.42" y="705.82" width="22.60" height="22.60"/>
<rect x="901.42" y="717.13" width="22.60" height="22.60"/>
<rect x="901.42" y="720.90" width="22.60" height="22.60"/>
<rect x="905.19" y="158.96" width="22.60" height="22.60"/>
<rect x="905.19" y="551.19" width="22.60" height="22.60"/>
<rect x="905.19" y="566.27" width="22.60" height="22.60"/>
<rect x="905.19" y="686.96" width="22.60" height="22.60"/>
<rect x="905.19" y="690.73" width="22.60" height="22.60"/>
<rect x="905.19" y="694.50" width="22.60" height="22.60"/>
<rect x="908.96" y="174.05" width="22.60" height="22.60"/>
<rect x="908.96" y="562.50" width="22.60" height="22.60"/>
<rect x="908.96" y="724.67" width="22.60" height="22.60"/>
<rect x="908.96" y="728.45" width="22.60" height="22.60"/>
<rect x="912.73" y="551.19" width="22.60" height="22.60"/>
<rect x="912.73" y="675.65" width="22.60" height="22.60"/>
<rect x="916.50" y="505.93" width="22.60" height="22.60"/>
<rect x="924.04" y="121.25" width="22.60" height="22.60"/>
<rect x="924.04" y="686.96" width="22.60" height="22.60"/>
<rect x="935.36" y="671.87" width="22.60" height="22.60"/>
<rect x="935.36" y="683.19" width="22.60" height="22.60"/>
<rect x="942.90" y="671.87" width="22.60" height="22.60"/>
<rect x="946.67" y="664.33" width="22.60" height="22.60"/>
<rect x="946.67" y="671.87" width="22.60" height="22.60"/>
<rect x="954.22" y="668.10" width="22.60" height="22.60"/>
<rect x="957.99" y="668.10" width="22.60" height="22.60"/>
<rect x="961.76" y="668.10" width="22.60" height="22.60"/>
<rect x="973.07" y="532.33" width="22.60" height="22.60"/>
<rect x="976.84" y="532.33" width="22.60" height="22.60"/>
<rect x="980.62" y="528.56" width="22.60" height="22.60"/>
<rect x="980.62" y="532.33" width="22.60" height="22.60"/>
<rect x="980.62" y="536.10" width="22.60" height="22.60"/>
<rect x="980.62" y="539.88" width="22.60" height="22.60"/>
<rect x="980.62" y="543.65" width="22.60" height="22.60"/>
<rect x="980.62" y="547.42" width="22.60" height="22.60"/>
<rect x="980.62" y="743.53" width="22.60" height="22.60"/>
<rect x="984.39" y="543.65" width="22.60" height="22.60"/>
<rect x="984.39" y="547.42" width="22.60" height="22.60"/>
<rect x="984.39" y="551.19" width="22.60" height="22.60"/>
<rect x="984.39" y="671.87" width="22.60" height="22.60"/>
<rect x="984.39" y="675.65" width="22.60" height="22.60"/>
<rect x="984.39" y="743.53" width="22.60" height="22.60"/>
<rect x="988.16" y="543.65" width="22.60" height="22.60"/>
<rect x="988.16" y="547.42" width="22.60" height="22.60"/>
<rect x="988.16" y="551.19" width="22.60" height="22.60"/>
<rect x="988.16" y="554.96" width="22.60" height="22.60"/>
<rect x="988.16" y="664.33" width="22.60" height="22.60"/>
<rect x="988.16" y="668.10" width="22.60" height="22.60"/>
<rect x="988.16" y="671.87" width="22.60" height="22.60"/>
<rect x="988.16" y="675.65" width="22.60" height="22.60"/>
<rect x="988.16" y="679.42" width="22.60" height="22.60"/>
<rect x="988.16" y="739.76" width="22.60" height="22.60"/>
<rect x="988.16" y="743.53" width="22.60" height="22.60"/>
<rect x="991.93" y="547.42" width="22.60" height="22.60"/>
<rect x="991.93" y="551.19" width="22.60" height="22.60"/>
<rect x="991.93" y="554.96" width="22.60" height="22.60"/>
<rect x="991.93" y="558.73" width="22.60" height="22.60"/>
<rect x="991.93" y="566.27" width="22.60" height="22.60"/>
<rect x="991.93" y="611.53" width="22.60" height="22.60"/>
<rect x="991.93" y="615.30" width="22.60" height="22.60"/>
<rect x="991.93" y="660.56" width="22.60" height="22.60"/>
<rect x="991.93" y="664.33" width="22.60" height="22.60"/>
<rect x="991.93" y="668.10" width="22.60" height="22.60"/>
<rect x="991.93" y="671.87" width="22.60" height="22.60"/>
<rect x="991.93" y="675.65" width="22.60" height="22.60"/>
<rect x="991.93" y="679.42" width="22.60" height="22.60"/>
<rect x="995.70" y="547.42" width="22.60" height="22.60"/>
<rect x="995.70" y="551.19" width="22.60" height="22.60"/>
<rect x="995.70" y="656.79" width="22.60" height="22.60"/>
<rect x="995.70" y="660.56" width="22.60" height="22.60"/>
<rect x="995.70" y="664.33" width="22.60" height="22.60"/>
<rect x="995.70" y="671.87" width="22.60" height="22.60"/>
<rect x="995.70" y="679.42" width="22.60" height="22.60"/>
<rect x="999.47" y="551.19" width="22.60" height="22.60"/>
<rect x="999.47" y="554.96" width="22.60" height="22.60"/>
<rect x="999.47" y="611.53" width="22.60" height="22.60"/>
<rect x="999.47" y="615.30" width="22.60" height="22.60"/>
<rect x="999.47" y="619.07" width="22.60" height="22.60"/>
<rect x="999.47" y="656.79" width="22.60" height="22.60"/>
<rect x="999.47" y="660.56" width="22.60" height="22.60"/>
<rect x="999.47" y="664.33" width="22.60" height="22.60"/>
<rect x="1003.24" y="554.96" width="22.60" height="22.60"/>
<rect x="1003.24" y="611.53" width="22.60" height="22.60"/>
<rect x="1003.24" y="615.30" width="22.60" height="22.60"/>
<rect x="1003.24" y="619.07" width="22.60" height="22.60"/>
<rect x="1003.24" y="656.79" width="22.60" height="22.60"/>
<rect x="1003.24" y="660.56" width="22.60" height="22.60"/>
<rect x="1003.24" y="664.33" width="22.60" height="22.60"/>
<rect x="1003.24" y="671.87" width="22.60" height="22.60"/>
<rect x="1003.24" y="679.42" width="22.60" height="22.60"/>
<rect x="1007.01" y="615.30" width="22.60" height="22.60"/>
<rect x="1007.01" y="619.07" width="22.60" height="22.60"/>
<rect x="1007.01" y="622.85" width="22.60" height="22.60"/>
<rect x="1007.01" y="626.62" width="22.60" height="22.60"/>
<rect x="1007.01" y="637.93" width="22.60" height="22.60"/>
<rect x="1007.01" y="641.70" width="22.60" height="22.60"/>
<rect x="1007.01" y="645.47" width="22.60" height="22.60"/>
<rect x="1007.01" y="649.25" width="22.60" height="22.60"/>
<rect x="1007.01" y="653.02" width="22.60" height="22.60"/>
<rect x="1007.01" y="656.79" width="22.60" height="22.60"/>
<rect x="1007.01" y="660.56" width="22.60" height="22.60"/>
<rect x="1007.01" y="664.33" width="22.60" height="22.60"/>
<rect x="1010.79" y="634.16" width="22.60" height="22.60"/>
<rect x="1010.79" y="637.93" width="22.60" height="22.60"/>
<rect x="1010.79" y="641.70" width="22.60" height="22.60"/>
<rect x="1010.79" y="645.47" width="22.60" height="22.60"/>
<rect x="1010.79" y="649.25" width="22.60" height="22.60"/>
<rect x="1010.79" y="653.02" width="22.60" height="22.60"/>
<rect x="1010.79" y="656.79" width="22.60" height="22.60"/>
<rect x="1010.79" y="660.56" width="22.60" height="22.60"/>
<rect x="1010.79" y="664.33" width="22.60" height="22.60"/>
<rect x="1010.79" y="671.87" width="22.60" height="22.60"/>
<rect x="1014.56" y="634.16" width="22.60" height="22.60"/>
<rect x="1014.56" y="637.93" width="22.60" height="22.60"/>
<rect x="1014.56" y="641.70" width="22.60" height="22.60"/>
<rect x="1014.56" y="645.47" width="22.60" height="22.60"/>
<rect x="1014.56" y="649.25" width="22.60" height="22.60"/>
<rect x="1014.56" y="653.02" width="22.60" height="22.60"/>
<rect x="1014.56" y="656.79" width="22.60" height="22.60"/>
<rect x="1014.56" y="1022.61" width="22.60" height="22.60"/>
<rect x="1018.33" y="645.47" width="22.60" height="22.60"/>
<rect x="1018.33" y="649.25" width="22.60" height="22.60"/>
<rect x="1018.33" y="653.02" width="22.60" height="22.60"/>
<rect x="1018.33" y="656.79" width="22.60" height="22.60"/>
<rect x="1018.33" y="664.33" width="22.60" height="22.60"/>
<rect x="1022.10" y="645.47" width="22.60" height="22.60"/>
<rect x="1022.10" y="649.25" width="22.60" height="22.60"/>
<rect x="1022.10" y="653.02" width="22.60" height="22.60"/>
<rect x="1022.10" y="656.79" width="22.60" height="22.60"/>
<rect x="1025.87" y="637.93" width="22.60" height="22.60"/>
<rect x="1025.87" y="645.47" width="22.60" height="22.60"/>
<rect x="1025.87" y="649.25" width="22.60" height="22.60"/>
<rect x="1097.53" y="125.02" width="22.60" height="22.60"/>
<rect x="1097.53" y="132.56" width="22.60" height="22.60"/>
<rect x="1101.30" y="136.34" width="22.60" height="22.60"/>
<rect x="1105.07" y="132.56" width="22.60" height="22.60"/>
<rect x="1105.07" y="140.11" width="22.60" height="22.60"/>
<rect x="1112.61" y="924.56" width="22.60" height="22.60"/>
<rect x="1116.39" y="630.39" width="22.60" height="22.60"/>
<rect x="1157.87" y="1328.10" width="22.60" height="22.60"/>
<rect x="1161.64" y="1320.55" width="22.60" height="22.60"/>
<rect x="1161.64" y="1328.10" width="22.60" height="22.60"/>
<rect x="1165.41" y="1177.24" width="22.60" height="22.60"/>
<rect x="1165.41" y="1188.56" width="22.60" height="22.60"/>
<rect x="1165.41" y="1320.55" width="22.60" height="22.60"/>
<rect x="1169.19" y="1320.55" width="22.60" height="22.60"/>
<rect x="1169.19" y="1328.10" width="22.60" height="22.60"/>
<rect x="1180.50" y="1328.10" width="22.60" height="22.60"/>
<rect x="1184.27" y="1335.64" width="22.60" height="22.60"/>
<rect x="1191.81" y="1339.41" width="22.60" height="22.60"/>
<rect x="1199.36" y="1388.44" width="22.60" height="22.60"/>
<rect x="1203.13" y="1335.64" width="22.60" height="22.60"/>
<rect x="1203.13" y="1339.41" width="22.60" height="22.60"/>
<rect x="1203.13" y="1343.18" width="22.60" height="22.60"/>
<rect x="1203.13" y="1346.95" width="22.60" height="22.60"/>
<rect x="1203.13" y="1350.73" width="22.60" height="22.60"/>
<rect x="1206.90" y="1335.64" width="22.60" height="22.60"/>
<rect x="1206.90" y="1339.41" width="22.60" height="22.60"/>
<rect x="1206.90" y="1343.18" width="22.60" height="22.60"/>
<rect x="1206.90" y="1346.95" width="22.60" height="22.60"/>
<rect x="1206.90" y="1350.73" width="22.60" height="22.60"/>
<rect x="1210.67" y="1335.64" width="22.60" height="22.60"/>
<rect x="1210.67" y="1339.41" width="22.60" height="22.60"/>
<rect x="1210.67" y="1343.18" width="22.60" height="22.60"/>
<rect x="1210.67" y="1346.95" width="22.60" height="22.60"/>
<rect x="1210.67" y="1350.73" width="22.60" height="22.60"/>
<rect x="1210.67" y="1399.75" width="22.60" height="22.60"/>
<rect x="1214.44" y="1335.64" width="22.60" height="22.60"/>
<rect x="1214.44" y="1339.41" width="22.60" height="22.60"/>
<rect x="1214.44" y="1343.18" width="22.60" height="22.60"/>
<rect x="1214.44" y="1346.95" width="22.60" height="22.60"/>
<rect x="1214.44" y="1350.73" width="22.60" height="22.60"/>
<rect x="1214.44" y="1388.44" width="22.60" height="22.60"/>
<rect x="1214.44" y="1392.21" width="22.60" height="22.60"/>
<rect x="1218.21" y="1331.87" width="22.60" height="22.60"/>
<rect x="1218.21" y="1335.64" width="22.60" height="22.60"/>
<rect x="1218.21" y="1339.41" width="22.60" height="22.60"/>
<rect x="1218.21" y="1343.18" width="22.60" height="22.60"/>
<rect x="1221.98" y="1328.10" width="22.60" height="22.60"/>
<rect x="1221.98" y="1331.87" width="22.60" height="22.60"/>
<rect x="1221.98" y="1335.64" width="22.60" height="22.60"/>
<rect x="1221.98" y="1339.41" width="22.60" height="22.60"/>
<rect x="1225.76" y="1328.10" width="22.60" height="22.60"/>
<rect x="1225.76" y="1331.87" width="22.60" height="22.60"/>
<rect x="1225.76" y="1335.64" width="22.60" height="22.60"/>
<rect x="1225.76" y="1339.41" width="22.60" height="22.60"/>
<rect x="1229.53" y="1320.55" width="22.60" height="22.60"/>
<rect x="1229.53" y="1324.33" width="22.60" height="22.60"/>
<rect x="1229.53" y="1328.10" width="22.60" height="22.60"/>
<rect x="1229.53" y="1331.87" width="22.60" height="22.60"/>
<rect x="1229.53" y="1335.64" width="22.60" height="22.60"/>
<rect x="1233.30" y="1320.55" width="22.60" height="22.60"/>
<rect x="1233.30" y="1324.33" width="22.60" height="22.60"/>
<rect x="1233.30" y="1328.10" width="22.60" height="22.60"/>
<rect x="1233.30" y="1331.87" width="22.60" height="22.60"/>
<rect x="1237.07" y="1313.01" width="22.60" height="22.60"/>
<rect x="1237.07" y="1316.78" width="22.60" height="22.60"/>
<rect x="1237.07" y="1320.55" width="22.60" height="22.60"/>
<rect x="1237.07" y="1324.33" width="22.60" height="22.60"/>
<rect x="1237.07" y="1328.10" width="22.60" height="22.60"/>
<rect x="1240.84" y="1313.01" width="22.60" height="22.60"/>
<rect x="1240.84" y="1316.78" width="22.60" height="22.60"/>
<rect x="1240.84" y="1320.55" width="22.60" height="22.60"/>
<rect x="1240.84" y="1324.33" width="22.60" height="22.60"/>
<rect x="1244.61" y="1313.01" width="22.60" height="22.60"/>
<rect x="1244.61" y="1320.55" width="22.60" height="22.60"/>
<rect x="1248.38" y="698.27" width="22.60" height="22.60"/>
<rect x="1248.38" y="702.05" width="22.60" height="22.60"/>
<rect x="1248.38" y="705.82" width="22.60" height="22.60"/>
<rect x="1252.16" y="705.82" width="22.60" height="22.60"/>
<rect x="1252.16" y="709.59" width="22.60" height="22.60"/>
<rect x="1255.93" y="1313.01" width="22.60" height="22.60"/>
<rect x="1263.47" y="1267.76" width="22.60" height="22.60"/>
<rect x="1263.47" y="1313.01" width="22.60" height="22.60"/>
<rect x="1267.24" y="1075.41" width="22.60" height="22.60"/>
<rect x="1267.24" y="1320.55" width="22.60" height="22.60"/>
<rect x="1278.56" y="1075.41" width="22.60" height="22.60"/>
<rect x="1308.73" y="1324.33" width="22.60" height="22.60"/>
<rect x="1312.50" y="1316.78" width="22.60" height="22.60"/>
<rect x="1312.50" y="1320.55" width="22.60" height="22.60"/>
<rect x="1312.50" y="1324.33" width="22.60" height="22.60"/>
<rect x="1316.27" y="1316.78" width="22.60" height="22.60"/>
<rect x="1316.27" y="1320.55" width="22.60" height="22.60"/>
<rect x="1316.27" y="1324.33" width="22.60" height="22.60"/>
<rect x="1357.76" y="1173.47" width="22.60" height="22.60"/>
<rect x="1365.30" y="426.73" width="22.60" height="22.60"/>
<rect x="1365.30" y="438.05" width="22.60" height="22.60"/>
<rect x="1403.01" y="1147.07" width="22.60" height="22.60"/>
<rect x="1403.01" y="1150.84" width="22.60" height="22.60"/>
<rect x="1403.01" y="1154.61" width="22.60" height="22.60"/>
<rect x="1403.01" y="1165.93" width="22.60" height="22.60"/>
<rect x="1403.01" y="1173.47" width="22.60" height="22.60"/>
<rect x="1406.78" y="1147.07" width="22.60" height="22.60"/>
<rect x="1406.78" y="1150.84" width="22.60" height="22.60"/>
<rect x="1406.78" y="1222.50" width="22.60" height="22.60"/>
<rect x="1406.78" y="1226.27" width="22.60" height="22.60"/>
<rect x="1410.55" y="1071.64" width="22.60" height="22.60"/>
<rect x="1410.55" y="1075.41" width="22.60" height="22.60"/>
<rect x="1410.55" y="1079.19" width="22.60" height="22.60"/>
<rect x="1410.55" y="1139.53" width="22.60" height="22.60"/>
<rect x="1410.55" y="1143.30" width="22.60" height="22.60"/>
<rect x="1410.55" y="1147.07" width="22.60" height="22.60"/>
<rect x="1410.55" y="1150.84" width="22.60" height="22.60"/>
<rect x="1410.55" y="1154.61" width="22.60" height="22.60"/>
<rect x="1410.55" y="1177.24" width="22.60" height="22.60"/>
<rect x="1410.55" y="1222.50" width="22.60" height="22.60"/>
<rect x="1410.55" y="1226.27" width="22.60" height="22.60"/>
<rect x="1414.33" y="1139.53" width="22.60" height="22.60"/>
<rect x="1414.33" y="1143.30" width="22.60" height="22.60"/>
<rect x="1414.33" y="1147.07" width="22.60" height="22.60"/>
<rect x="1414.33" y="1150.84" width="22.60" height="22.60"/>
<rect x="1414.33" y="1218.73" width="22.60" height="22.60"/>
<rect x="1414.33" y="1222.50" width="22.60" height="22.60"/>
<rect x="1414.33" y="1226.27" width="22.60" height="22.60"/>
<rect x="1418.10" y="1067.87" width="22.60" height="22.60"/>
<rect x="1418.10" y="1071.64" width="22.60" height="22.60"/>
<rect x="1418.10" y="1079.19" width="22.60" height="22.60"/>
<rect x="1418.10" y="1090.50" width="22.60" height="22.60"/>
<rect x="1418.10" y="1131.98" width="22.60" height="22.60"/>
<rect x="1418.10" y="1135.76" width="22.60" height="22.60"/>
<rect x="1418.10" y="1139.53" width="22.60" height="22.60"/>
<rect x="1418.10" y="1143.30" width="22.60" height="22.60"/>
<rect x="1418.10" y="1147.07" width="22.60" height="22.60"/>
<rect x="1421.87" y="1128.21" width="22.60" height="22.60"/>
<rect x="1421.87" y="1131.98" width="22.60" height="22.60"/>
<rect x="1421.87" y="1135.76" width="22.60" height="22.60"/>
<rect x="1421.87" y="1139.53" width="22.60" height="22.60"/>
<rect x="1421.87" y="1143.30" width="22.60" height="22.60"/>
<rect x="1425.64" y="1094.27" width="22.60" height="22.60"/>
<rect x="1425.64" y="1113.13" width="22.60" height="22.60"/>
<rect x="1425.64" y="1116.90" width="22.60" height="22.60"/>
<rect x="1425.64" y="1120.67" width="22.60" height="22.60"/>
<rect x="1425.64" y="1124.44" width="22.60" height="22.60"/>
<rect x="1425.64" y="1128.21" width="22.60" height="22.60"/>
<rect x="1425.64" y="1131.98" width="22.60" height="22.60"/>
<rect x="1425.64" y="1135.76" width="22.60" height="22.60"/>
<rect x="1425.64" y="1139.53" width="22.60" height="22.60"/>
<rect x="1429.41" y="1101.81" width="22.60" height="22.60"/>
<rect x="1429.41" y="1113.13" width="22.60" height="22.60"/>
<rect x="1429.41" y="1116.90" width="22.60" height="22.60"/>
<rect x="1429.41" y="1120.67" width="22.60" height="22.60"/>
<rect x="1429.41" y="1124.44" width="22.60" height="22.60"/>
<rect x="1429.41" y="1128.21" width="22.60" height="22.60"/>
<rect x="1429.41" y="1131.98" width="22.60" height="22.60"/>
<rect x="1429.41" y="1135.76" width="22.60" height="22.60"/>
<rect x="1433.18" y="1113.13" width="22.60" height="22.60"/>
<rect x="1433.18" y="1116.90" width="22.60" height="22.60"/>
<rect x="1433.18" y="1120.67" width="22.60" height="22.60"/>
<rect x="1433.18" y="1124.44" width="22.60" height="22.60"/>
<rect x="1433.18" y="1128.21" width="22.60" height="22.60"/>
<rect x="1436.95" y="1113.13" width="22.60" height="22.60"/>
<rect x="1436.95" y="1116.90" width="22.60" height="22.60"/>
<rect x="1436.95" y="1120.67" width="22.60" height="22.60"/>
<rect x="1436.95" y="1124.44" width="22.60" height="22.60"/>
<rect x="1440.73" y="1113.13" width="22.60" height="22.60"/>
<rect x="1440.73" y="1116.90" width="22.60" height="22.60"/>
<rect x="1440.73" y="1120.67" width="22.60" height="22.60"/>
<rect x="1440.73" y="1124.44" width="22.60" height="22.60"/>
<rect x="1478.44" y="1109.36" width="22.60" height="22.60"/>
<rect x="1478.44" y="1124.44" width="22.60" height="22.60"/>
<rect x="1482.21" y="1124.44" width="22.60" height="22.60"/>
<rect x="1489.75" y="1120.67" width="22.60" height="22.60"/>
</g>
<g fill="none" stroke="#ff0000" stroke-width="3.00" stroke-linejoin="round">
<path d="M912.72 167.75L927.96 194.15L897.47 194.15Z"/>
<path d="M912.72 171.52L927.96 197.92L897.47 197.92Z"/>
<path d="M912.72 179.06L927.96 205.46L897.47 205.46Z"/>
<path d="M871.23 435.52L886.47 461.92L855.99 461.92Z"/>
<path d="M871.23 439.29L886.47 465.69L855.99 465.69Z"/>
<path d="M916.49 559.97L931.73 586.37L901.25 586.37Z"/>
<path d="M995.69 537.35L1010.93 563.75L980.44 563.75Z"/>
<path d="M999.46 537.35L1014.70 563.75L984.22 563.75Z"/>
<path d="M991.92 541.12L1007.16 567.52L976.67 567.52Z"/>
<path d="M1003.23 541.12L1018.47 567.52L987.99 567.52Z"/>
<path d="M995.69 541.12L1010.93 567.52L980.44 567.52Z"/>
<path d="M999.46 541.12L1014.70 567.52L984.22 567.52Z"/>
<path d="M999.46 544.89L1014.70 571.29L984.22 571.29Z"/>
<path d="M999.46 658.03L1014.70 684.43L984.22 684.43Z"/>
<path d="M1003.23 658.03L1018.47 684.43L987.99 684.43Z"/>
<path d="M999.46 661.80L1014.70 688.20L984.22 688.20Z"/>
<path d="M1003.23 661.80L1018.47 688.20L987.99 688.20Z"/>
<path d="M995.69 661.80L1010.93 688.20L980.44 688.20Z"/>
<path d="M995.69 665.57L1010.93 691.97L980.44 691.97Z"/>
<path d="M999.46 665.57L1014.70 691.97L984.22 691.97Z"/>
<path d="M1003.23 665.57L1018.47 691.97L987.99 691.97Z"/>
<path d="M995.69 669.35L1010.93 695.75L980.44 695.75Z"/>
<path d="M999.46 669.35L1014.70 695.75L984.22 695.75Z"/>
<path d="M1003.23 669.35L1018.47 695.75L987.99 695.75Z"/>
<path d="M1433.17 1121.91L1448.41 1148.31L1417.93 1148.31Z"/>
<path d="M1436.94 1121.91L1452.18 1148.31L1421.70 1148.31Z"/>
<path d="M1440.71 1121.91L1455.95 1148.31L1425.47 1148.31Z"/>
<path d="M1436.94 1125.68L1452.18 1152.08L1421.70 1152.08Z"/>
<path d="M1433.17 1125.68L1448.41 1152.08L1417.93 1152.08Z"/>
<path d="M1433.17 1129.46L1448.41 1155.86L1417.93 1155.86Z"/>
<path d="M1429.40 1129.46L1444.64 1155.86L1414.16 1155.86Z"/>
<path d="M1429.40 1133.23L1444.64 1159.63L1414.16 1159.63Z"/>
<path d="M1433.17 1133.23L1448.41 1159.63L1417.93 1159.63Z"/>
<path d="M1429.40 1137.00L1444.64 1163.40L1414.16 1163.40Z"/>
<path d="M1425.63 1137.00L1440.87 1163.40L1410.38 1163.40Z"/>
<path d="M1433.17 1137.00L1448.41 1163.40L1417.93 1163.40Z"/>
<path d="M1425.63 1140.77L1440.87 1167.17L1410.38 1167.17Z"/>
<path d="M1429.40 1140.77L1444.64 1167.17L1414.16 1167.17Z"/>
<path d="M1421.85 1144.54L1437.10 1170.94L1406.61 1170.94Z"/>
<path d="M1425.63 1144.54L1440.87 1170.94L1410.38 1170.94Z"/>
</g>
<g stroke="#000" stroke-width="3" stroke-linecap="round" fill="none">
<rect x="120.5" y="30.5" width="1449.5" height="1449"/>
<line x1="169.75" y1="1479.5" x2="169.75" y2="1510"/>
<line x1="90.3" y1="79.75" x2="120.5" y2="79.75"/>
<line x1="358.32" y1="1479.5" x2="358.32" y2="1510"/>
<line x1="90.3" y1="268.32" x2="120.5" y2="268.32"/>
<line x1="546.89" y1="1479.5" x2="546.89" y2="1510"/>
<line x1="90.3" y1="456.89" x2="120.5" y2="456.89"/>
<line x1="735.46" y1="1479.5" x2="735.46" y2="1510"/>
<line x1="90.3" y1="645.46" x2="120.5" y2="645.46"/>
<line x1="924.03" y1="1479.5" x2="924.03" y2="1510"/>
<line x1="90.3" y1="834.03" x2="120.5" y2="834.03"/>
<line x1="1112.60" y1="1479.5" x2="1112.60" y2="1510"/>
<line x1="90.3" y1="1022.60" x2="120.5" y2="1022.60"/>
<line x1="1301.17" y1="1479.5" x2="1301.17" y2="1510"/>
<line x1="90.3" y1="1211.17" x2="120.5" y2="1211.17"/>
<line x1="1489.74" y1="1479.5" x2="1489.74" y2="1510"/>
<line x1="90.3" y1="1399.74" x2="120.5" y2="1399.74"/>
</g>
<g font-size="50.2">
<text transform="translate(169.25 1588) scale(1 1.072)" text-anchor="middle">0</text>
<text transform="translate(357.82 1588) scale(1 1.072)" text-anchor="middle">50</text>
<text transform="translate(546.39 1588) scale(1 1.072)" text-anchor="middle">100</text>
<text transform="translate(734.96 1588) scale(1 1.072)" text-anchor="middle">150</text>
<text transform="translate(923.53 1588) scale(1 1.072)" text-anchor="middle">200</text>
<text transform="translate(1112.10 1588) scale(1 1.072)" text-anchor="middle">250</text>
<text transform="translate(1300.67 1588) scale(1 1.072)" text-anchor="middle">300</text>
<text transform="translate(1489.24 1588) scale(1 1.072)" text-anchor="middle">350</text>
<text transform="translate(49 80.55) rotate(-90) scale(1 1.072)" text-anchor="middle">0</text>
<text transform="translate(49 269.12) rotate(-90) scale(1 1.072)" text-anchor="middle">50</text>
<text transform="translate(49 457.69) rotate(-90) scale(1 1.072)" text-anchor="middle">100</text>
<text transform="translate(49 646.26) rotate(-90) scale(1 1.072)" text-anchor="middle">150</text>
<text transform="translate(49 834.83) rotate(-90) scale(1 1.072)" text-anchor="middle">200</text>
<text transform="translate(49 1023.40) rotate(-90) scale(1 1.072)" text-anchor="middle">250</text>
<text transform="translate(49 1211.97) rotate(-90) scale(1 1.072)" text-anchor="middle">300</text>
<text transform="translate(49 1400.54) rotate(-90) scale(1 1.072)" text-anchor="middle">350</text>
</g>
<g fill="none" stroke-width="2.9" stroke-linejoin="round">
<path d="M1202.5 73L1217.6 98L1187.4 98Z" stroke="#ff0000"/>
<rect x="1191.3" y="138.4" width="22.7" height="22.7" stroke="#0000ff"/>
</g>
<g font-size="50">
<text x="1247" y="107.5">DNCON2-RR</text>
<text x="1247" y="167.5">Model-RR</text>
</g>
<text transform="translate(199 1450.7) scale(1 1.05)" font-size="100">Top-L/10</text>
</svg>
</body></html>
